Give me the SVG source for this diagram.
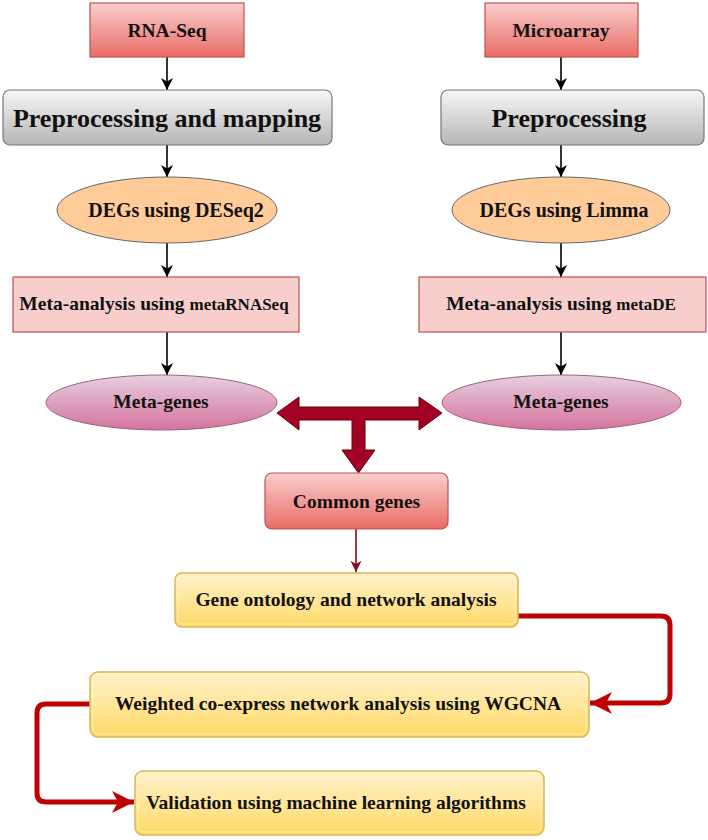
<svg xmlns="http://www.w3.org/2000/svg" width="708" height="840" viewBox="0 0 708 840">
<defs>
<linearGradient id="gRed" x1="0" y1="0" x2="0" y2="1"><stop offset="0" stop-color="#f8cecc"/><stop offset="1" stop-color="#ea6b66"/></linearGradient>
<linearGradient id="gGray" x1="0" y1="0" x2="0" y2="1"><stop offset="0" stop-color="#f7f7f7"/><stop offset="1" stop-color="#b5b5b5"/></linearGradient>
<linearGradient id="gPink" x1="0" y1="0" x2="0" y2="1"><stop offset="0" stop-color="#e6d0de"/><stop offset="1" stop-color="#d5739d"/></linearGradient>
<linearGradient id="gYel" x1="0" y1="0" x2="0" y2="1"><stop offset="0" stop-color="#fff2cc"/><stop offset="1" stop-color="#ffd966"/></linearGradient>
<marker id="aBlack" viewBox="0 0 14 14" refX="13" refY="7" markerWidth="14" markerHeight="14" markerUnits="userSpaceOnUse" orient="auto"><path d="M1,1 L13,7 L1,13 L4.5,7 Z" fill="#000"/></marker>
<marker id="aDark" viewBox="0 0 14 14" refX="13" refY="7" markerWidth="13" markerHeight="13" markerUnits="userSpaceOnUse" orient="auto"><path d="M1,1 L13,7 L1,13 L4.5,7 Z" fill="#8b0a1a"/></marker>
<marker id="aRed" viewBox="0 0 24 24" refX="23" refY="12" markerWidth="24" markerHeight="24" markerUnits="userSpaceOnUse" orient="auto"><path d="M1,1 L23,12 L1,23 L7,12 Z" fill="#c00000"/></marker>
</defs>
<style>
text{font-family:"Liberation Serif","Times New Roman",serif;font-weight:bold;fill:#111;text-anchor:middle}
.t19{font-size:19.5px}
.t26{font-size:26px}
.t20{font-size:20px}
.sm{font-size:17px}
.red{fill:url(#gRed);stroke:#b85450;stroke-width:1.2}
.gray{fill:url(#gGray);stroke:#777;stroke-width:1.2}
.peach{fill:#ffcc99;stroke:#666;stroke-width:1}
.pinkbox{fill:#f8cecc;stroke:#b85450;stroke-width:1.2}
.pink{fill:url(#gPink);stroke:#996185;stroke-width:1}
.yel{fill:url(#gYel);stroke:#d6b656;stroke-width:1.5}
.yin{fill:none;stroke:#fff3c4;stroke-width:1;opacity:0.8}
.blk{stroke:#000;stroke-width:1.6;fill:none;marker-end:url(#aBlack)}
.rc{stroke:#c00000;stroke-width:5;fill:none;stroke-linejoin:round;marker-end:url(#aRed)}
</style>
<g id="connectors">
<line class="blk" x1="167" y1="57" x2="167" y2="90"/>
<line class="blk" x1="167" y1="145" x2="167" y2="177"/>
<line class="blk" x1="167" y1="243" x2="167" y2="277"/>
<line class="blk" x1="167" y1="332" x2="167" y2="375"/>
<line class="blk" x1="561" y1="57" x2="561" y2="90"/>
<line class="blk" x1="561" y1="145" x2="561" y2="177"/>
<line class="blk" x1="561" y1="243" x2="561" y2="277"/>
<line class="blk" x1="561" y1="332" x2="561" y2="375"/>
<polygon points="277,413 299,397 299,407 419,407 419,397 442,413 419,430 419,420 365,420 365,450 375,450 358.5,473 342,450 352,450 352,420 299,420 299,430" fill="#a20025" stroke="#6f0000" stroke-width="1"/>
<line x1="356" y1="529" x2="356" y2="572" stroke="#8b0a1a" stroke-width="1.6" marker-end="url(#aDark)"/>
<path class="rc" d="M518,616 H661 Q670,616 670,625 V694 Q670,703 661,703 H590"/>
<path class="rc" d="M90,704 H46 Q37,704 37,713 V793 Q37,802 46,802 H134"/>
</g>
<g id="rnaseq"><rect class="red" x="90" y="3" width="154" height="54"/><text class="t19" x="167" y="37">RNA-Seq</text></g>
<g id="microarray"><rect class="red" x="485" y="3" width="153" height="54"/><text class="t19" x="561" y="37">Microarray</text></g>
<g id="prep-map"><rect class="gray" x="3" y="90" width="329" height="55" rx="7"/><text class="t26" x="167" y="127">Preprocessing and mapping</text></g>
<g id="prep"><rect class="gray" x="441" y="90" width="263" height="55" rx="7"/><text class="t26" x="569" y="127">Preprocessing</text></g>
<g id="deseq2"><ellipse class="peach" cx="167" cy="210" rx="110" ry="33"/><text class="t20" x="176" y="217">DEGs using DESeq2</text></g>
<g id="limma"><ellipse class="peach" cx="561" cy="210" rx="109" ry="33"/><text class="t20" x="564" y="217">DEGs using Limma</text></g>
<g id="metarnaseq"><rect class="pinkbox" x="13" y="277" width="286" height="55"/><text class="t19" x="154" y="310">Meta-analysis using <tspan class="sm">metaRNASeq</tspan></text></g>
<g id="metade"><rect class="pinkbox" x="419" y="277" width="287" height="55"/><text class="t19" x="561" y="310">Meta-analysis using <tspan class="sm">metaDE</tspan></text></g>
<g id="metagenes-left"><ellipse class="pink" cx="161.5" cy="402.5" rx="115.5" ry="27.5"/><text class="t19" x="161" y="408">Meta-genes</text></g>
<g id="metagenes-right"><ellipse class="pink" cx="561.5" cy="402.5" rx="119.5" ry="27.5"/><text class="t19" x="561" y="408">Meta-genes</text></g>
<g id="common"><rect class="red" x="265" y="473" width="183" height="56" rx="7"/><text class="t19" x="356.5" y="508">Common genes</text></g>
<g id="ontology"><rect class="yel" x="175" y="573" width="343" height="54" rx="7"/><rect class="yin" x="178" y="576" width="337" height="48" rx="5"/><text class="t19" x="346" y="606">Gene ontology and network analysis</text></g>
<g id="wgcna"><rect class="yel" x="90" y="672" width="499" height="65" rx="8"/><rect class="yin" x="93" y="675" width="493" height="59" rx="6"/><text class="t19" x="338" y="710">Weighted co-express network analysis using WGCNA</text></g>
<g id="validation"><rect class="yel" x="135" y="771" width="409" height="64" rx="8"/><rect class="yin" x="138" y="774" width="403" height="58" rx="6"/><text class="t19" x="336" y="809">Validation using machine learning algorithms</text></g>
</svg>
